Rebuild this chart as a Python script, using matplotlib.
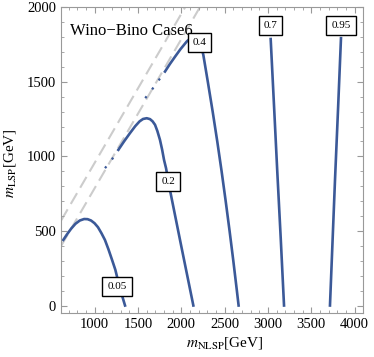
import matplotlib
matplotlib.use("Agg")
import matplotlib.pyplot as plt
from matplotlib.ticker import MultipleLocator

plt.rcParams['font.family'] = ['Liberation Serif', 'DejaVu Serif']
plt.rcParams['mathtext.fontset'] = 'stix'

# contour levels and their traced points (m_NLSP, m_LSP) in GeV
levels = ['0.05', '0.2', '0.4', '0.7', '0.95']

c005_x = [640, 680, 730, 780, 830, 880, 920, 960, 1000, 1040, 1080, 1120,
          1160, 1200, 1240, 1280, 1320, 1352]
c005_y = [440, 475, 515, 548, 570, 580, 579, 570, 552, 525, 485, 440,
          378, 310, 240, 145, 62, 0]

# dotted start near the dashed line, then solid
c02_dot_x = [1121, 1198, 1275]
c02_dot_y = [921, 977, 1044]
c02_x = [1275, 1340, 1409, 1470, 1520, 1560, 1602, 1640, 1670, 1698, 1725,
         1755, 1780, 1802, 1825, 1865, 2000, 2140]
c02_y = [1044, 1100, 1156, 1203, 1235, 1251, 1256, 1250, 1235, 1212, 1170,
         1111, 1045, 976, 921, 790, 400, 0]

c04_dot_x = [1585, 1660, 1740, 1813]
c04_dot_y = [1391, 1446, 1510, 1569]
c04_x = [1813, 1870, 1928, 1990, 2063, 2120, 2175, 2220, 2255, 2307, 2363,
         2416, 2466, 2513, 2558, 2601, 2642, 2662]
c04_y = [1569, 1620, 1668, 1718, 1770, 1800, 1805, 1760, 1681, 1500, 1300,
         1100, 900, 700, 500, 300, 100, 0]

c07_x = [3032, 3074, 3108, 3148, 3186]
c07_y = [1787, 1300, 900, 450, 0]

c095_x = [3843, 3810, 3774, 3716]
c095_y = [1793, 1330, 842, 0]

# contour label positions
label_x = [1260, 1851, 2211, 3030, 3843]
label_y = [126, 831, 1762, 1876, 1879]

# kinematic boundary lines: m_LSP = m_NLSP - delta
deltas = [45, 215]
line_x = [400, 2400]

blue = '#3b5998'

fig = plt.figure(figsize=(3.74, 3.57), dpi=100)
ax = fig.add_axes([0.1644, 0.1246, 0.8062, 0.855])

for d in deltas:
    ax.plot(line_x, [v - d for v in line_x], color='#cccccc', lw=1.5,
            dashes=(6, 3), zorder=1)

ax.plot(c005_x, c005_y, color=blue, lw=1.9, zorder=2, solid_joinstyle='round')
ax.plot(c02_dot_x, c02_dot_y, color=blue, lw=1.6, ls=(0, (1, 4)), zorder=2)
ax.plot(c02_x, c02_y, color=blue, lw=1.9, zorder=2, solid_joinstyle='round')
ax.plot(c04_dot_x, c04_dot_y, color=blue, lw=1.6, ls=(0, (1, 4)), zorder=2)
ax.plot(c04_x, c04_y, color=blue, lw=1.9, zorder=2, solid_joinstyle='round')
ax.plot(c07_x, c07_y, color=blue, lw=1.9, zorder=2, solid_joinstyle='round')
ax.plot(c095_x, c095_y, color=blue, lw=1.9, zorder=2, solid_joinstyle='round')

for t, x, y in zip(levels, label_x, label_y):
    ax.text(x, y, t, fontsize=8, ha='center', va='center', zorder=5,
            bbox=dict(boxstyle='square,pad=0.45', fc='white', ec='black', lw=1.0))

ax.text(717, 1842, 'Wino\u2212Bino Case6', fontsize=12, ha='left', va='center',
        family=['Liberation Serif', 'DejaVu Serif'], zorder=4)

ax.set_xlim(619, 4097)
ax.set_ylim(-47, 2000)

ax.xaxis.set_major_locator(MultipleLocator(500))
ax.xaxis.set_minor_locator(MultipleLocator(100))
ax.yaxis.set_major_locator(MultipleLocator(500))
ax.yaxis.set_minor_locator(MultipleLocator(100))
ax.tick_params(which='both', direction='in', top=True, right=True, color='#999999')
ax.tick_params(which='major', length=4, width=0.8, labelsize=10.5, pad=4)
ax.tick_params(which='minor', length=2, width=0.6)
for s in ax.spines.values():
    s.set_color('#999999')
    s.set_linewidth(0.8)

ax.set_xlabel(r'$m_{\rm NLSP}$[GeV]', fontsize=11)
ax.set_ylabel(r'$m_{\rm LSP}$[GeV]', fontsize=11)
ax.xaxis.set_label_coords(0.54, -0.075)
ax.yaxis.set_label_coords(-0.145, 0.49)

fig.savefig('out.png', dpi=100)
